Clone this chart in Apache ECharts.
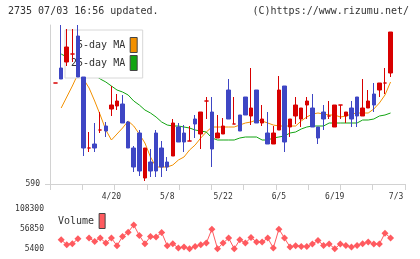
<!DOCTYPE html>
<html>
<head>
<meta charset="utf-8">
<script src="https://cdn.jsdelivr.net/npm/echarts@6/dist/echarts.min.js"></script>
<style>html,body{margin:0;padding:0;background:#fff}#chart{width:420px;height:259px}</style>
</head>
<body>
<div id="chart"></div>
<script>
// trading days shown on the chart
const dates = ['4/6','4/7','4/10','4/11','4/12','4/13','4/14','4/17','4/18','4/19',
  '4/20','4/21','4/24','4/25','4/26','4/27','4/28','5/1','5/2','5/3',
  '5/8','5/9','5/10','5/11','5/12','5/15','5/16','5/17','5/18','5/19',
  '5/22','5/23','5/24','5/25','5/26','5/29','5/30','5/31','6/1','6/2',
  '6/5','6/6','6/7','6/8','6/9','6/12','6/13','6/14','6/15','6/16',
  '6/19','6/20','6/21','6/22','6/23','6/26','6/27','6/28','6/29','6/30','7/3']

const opens = [640.5,648,651,655,664,643.5,608,610,617,619,627.5,629,630,621,608,615.5,593,601,615.5,608,
  601,604,618.5,615.5,611.5,622.5,615,631.5,626,613,615,637,620,624.5,633.5,624,637,620.5,615.5,610,
  617,639,618.5,624,622.5,629.5,628,618.5,626,624,618.5,629.5,624,628,633.5,624,628,635,637,640.5,645.5]
const closes = [640.5,642.5,658.5,655,643.5,608,608,608,617,616.5,629.5,631.5,620.5,608,598.5,596.5,608,596.5,596.5,598.5,
  598.5,620.5,611,611,611.5,620,626,631.5,607.5,615.5,619,622.5,620,616.5,624.5,628,620.5,622.5,610,615.5,
  637,611,622.5,629.5,628,631.5,618.5,613,622.5,624,629.5,629.5,626,622.5,624,628,631.5,629.5,640.5,640.5,666]
const lows = [640.5,642.5,649,651,643.5,604,606,606,615.5,613.5,624,627,620.5,608,596,594,591.5,593.5,593.5,593.5,
  596.5,604,611,606,611.5,613,607.5,622.5,598.5,613,615,622.5,620,616.5,624.5,619.5,620.5,619,610,610,
  617,606,613.5,620,618.5,622.5,618.5,610,617,622.5,618.5,622.5,620.5,618.5,618.5,624,628,626,633.5,635,643.5]
const highs = [640.5,669.5,667.5,667.5,669.5,643.5,616,620.5,626,621,639,635,634.5,621.5,609,617,608,607.5,617,611.5,
  603.5,622.5,620.5,619.5,619,624.5,626,633.5,633.5,624.5,623,642.5,633.5,624.5,633.5,648,637,629.5,626,619,
  644,639,622.5,633.5,628,633.5,635,618.5,629.5,631.5,629.5,629.5,626,631.5,633.5,642.5,637,640.5,640.5,648,666]

const ma5 = [null,628,633.5,639,645,642.5,638,631.5,624.5,617,612,615,618,621.5,619,615,610.5,603.5,598.5,598.5,
  598.5,599.5,602,603.5,607,609.5,613,616,618.5,618.5,618.5,618.5,618.5,619.5,620.5,621,622,621.5,620.5,619.5,
  619,619,619,619,621.5,623.5,625,625.5,625,624.5,624.5,623.5,624,625,625.5,625.5,625.5,627.5,630.5,634.5,641]
const ma25 = [null,655,653.5,652,650.5,648.5,646.5,644.5,642.5,641,639,637,636,634.5,631.5,629.5,627,625.5,623.5,621,
  619.5,619,619,618.5,618,617,616.5,616,613,612,612,612,612,613,613.5,613.5,613.5,612,612,613,
  613.5,614,615.5,616,617.5,618.5,619,619,619,620.5,620.5,620.5,620.5,620.5,620.5,622,622,622.5,624,624.5,625.5]
const volumes = [null,29100,16400,18900,31700,null,33500,24800,33500,20700,33500,13800,37600,48800,67400,40100,18900,37600,36000,47800,
  13800,18900,8000,10500,6200,12000,16400,20700,56500,6200,20700,33500,6200,29100,20700,35000,23300,23300,33500,8000,
  56500,33500,10500,13800,12000,12000,18200,27400,14600,18200,6200,18200,14600,10500,14600,18900,23300,18200,18200,46200,33500]

const priceTicks = [590]
const volTicks = [5400, 56850, 108300]
const dateTicks = ['4/20', '5/8', '5/22', '6/5', '6/19', '7/3']

const FONT = 'DejaVu Sans Mono'
const RED = '#d80000'
const BLUE = '#3e46c4'
const GRAY = '#d2d2d2'

// one empty slot before the data and three after it
const cats = [''].concat(dates, ['', '', ''])
const pad = arr => [null].concat(arr)
const candles = [['-', '-', '-', '-']].concat(dates.map((d, i) => [opens[i], closes[i], lows[i], highs[i]]))

const chart = echarts.init(document.getElementById('chart'))
const legendText = { fontFamily: FONT, fontSize: 10, color: '#333' }

const option = {
  animation: false,
  title: [
    { text: '2735 07/03 16:56 updated.', left: 8, top: 6, padding: 0,
      textStyle: { fontFamily: FONT, fontSize: 10, fontWeight: 'normal', color: '#333' } },
    { text: '(C)https://www.rizumu.net/', right: 11, top: 6, padding: 0,
      textStyle: { fontFamily: FONT, fontSize: 10, fontWeight: 'normal', color: '#333' } }
  ],
  legend: [
    {
      data: ['5-day MA', '25-day MA'],
      orient: 'vertical', left: 65, top: 30, align: 'right',
      icon: 'rect', itemWidth: 7, itemHeight: 15, itemGap: 2,
      padding: [7, 5, 7, 6],
      backgroundColor: '#fff', borderColor: '#d8d8d8', borderWidth: 1,
      itemStyle: { borderColor: '#444', borderWidth: 1 },
      textStyle: legendText, selectedMode: false
    },
    {
      data: ['Volume'],
      left: 58, top: 213, align: 'right', padding: 0,
      icon: 'rect', itemWidth: 6, itemHeight: 15,
      itemStyle: { borderColor: '#444', borderWidth: 1 },
      textStyle: legendText, selectedMode: false
    }
  ],
  grid: [
    { left: 50, top: 25, width: 357.3, height: 159 },
    { left: 50, top: 209, width: 357.3, height: 40 },
    { left: 50, top: 25, width: 355, height: 159 }
  ],
  xAxis: [
    {
      type: 'category', gridIndex: 0, data: cats, boundaryGap: false,
      axisLine: { show: false }, axisTick: { show: false }, splitLine: { show: false },
      axisLabel: {
        interval: (i, v) => dateTicks.includes(v),
        fontFamily: FONT, fontSize: 8, color: '#333', margin: 9,
        formatter: v => v === '7/3' ? '{r|' + v + '}' : v,
        rich: { r: { fontFamily: FONT, fontSize: 8, color: '#333', padding: [0, 0, 0, 11] } }
      }
    },
    { type: 'category', gridIndex: 1, data: cats, boundaryGap: false, show: false },
    {
      type: 'value', gridIndex: 2, min: 0, max: 11, interval: 1,
      axisLine: { lineStyle: { color: GRAY } },
      axisTick: { length: 6, lineStyle: { color: GRAY } },
      axisLabel: { show: false }, splitLine: { show: false }
    }
  ],
  yAxis: [
    {
      type: 'value', gridIndex: 0, min: 590, max: 669.5,
      axisLine: { show: true, lineStyle: { color: GRAY } },
      axisTick: { show: true, length: 5, customValues: priceTicks, lineStyle: { color: GRAY } },
      axisLabel: { customValues: priceTicks, fontFamily: FONT, fontSize: 8, color: '#333', margin: 10,
        formatter: v => String(v) },
      splitLine: { show: false }
    },
    {
      type: 'value', gridIndex: 1, min: 5400, max: 108300,
      axisLine: { show: false }, axisTick: { show: false }, splitLine: { show: false },
      axisLabel: { customValues: volTicks, fontFamily: FONT, fontSize: 8, color: '#333', margin: 6,
        formatter: v => String(v) }
    },
    { type: 'value', gridIndex: 2, show: false }
  ],
  series: [
    {
      name: '5-day MA', type: 'line', data: pad(ma5), xAxisIndex: 0, yAxisIndex: 0,
      symbol: 'none', color: '#f29000', lineStyle: { width: 1 }, z: 2
    },
    {
      name: '25-day MA', type: 'line', data: pad(ma25), xAxisIndex: 0, yAxisIndex: 0,
      symbol: 'none', color: '#12a412', lineStyle: { width: 1 }, z: 2
    },
    {
      name: 'price', type: 'candlestick', data: candles, xAxisIndex: 0, yAxisIndex: 0,
      barWidth: 4, z: 5,
      itemStyle: {
        color: RED, color0: BLUE, borderColor: RED, borderColor0: BLUE,
        borderColorDoji: RED, borderWidth: 1
      }
    },
    {
      name: 'Volume', type: 'line', data: pad(volumes), xAxisIndex: 1, yAxisIndex: 1,
      symbol: 'diamond', symbolSize: 7, showAllSymbol: true,
      color: '#ff5a5f', lineStyle: { width: 1 }
    }
  ]
}

chart.setOption(option)
</script>
</body>
</html>
